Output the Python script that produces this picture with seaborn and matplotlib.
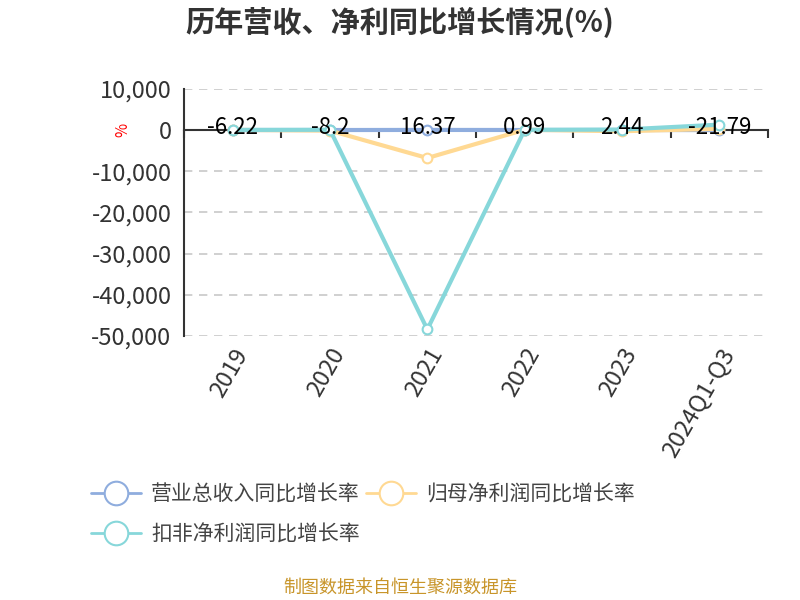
import numpy as np
import pandas as pd
import seaborn as sns
import matplotlib.pyplot as plt
from matplotlib.lines import Line2D

# data
years = ["2019", "2020", "2021", "2022", "2023", "2024Q1-Q3"]
revenue_growth = [-6.22, -8.2, 16.37, 0.99, 2.44, -21.79]
net_profit_growth = [30, -150, -6800, 60, -300, 300]
deducted_profit_growth = [20, 50, -48400, 40, 100, 1300]

series_names = ["营业总收入同比增长率", "归母净利润同比增长率", "扣非净利润同比增长率"]
colors = ["#8fadde", "#ffd993", "#87d7da"]

df = pd.DataFrame({
    "year": years * 3,
    "value": revenue_growth + net_profit_growth + deducted_profit_growth,
    "series": [series_names[0]] * 6 + [series_names[1]] * 6 + [series_names[2]] * 6,
})

sns.set_style("white")
plt.rcParams["font.family"] = ["Noto Sans CJK SC", "DejaVu Sans"]
plt.rcParams["axes.unicode_minus"] = False

fig = plt.figure(figsize=(8, 6), dpi=100)
ax = fig.add_axes([0.23, 0.44, 0.73, 0.412])

sns.lineplot(data=df, x="year", y="value", hue="series", hue_order=series_names,
             palette=colors, marker="o", markersize=7, linewidth=3,
             legend=False, ax=ax, zorder=3)
for line, c in zip(ax.lines, colors):
    line.set_markerfacecolor("white")
    line.set_markeredgecolor(c)
    line.set_markeredgewidth(1.5)

ax.set_xlim(-0.5, len(years) - 0.5)
ax.set_ylim(-50000, 10000)
yticks = np.arange(-50000, 10001, 10000)
ax.set_yticks(yticks)
ax.set_yticklabels([f"{v:,}" for v in yticks], fontsize=17, color="#333333")
for v in yticks:
    if v != 0:
        ax.axhline(v, color="#c8c8c8", linestyle=(0, (5, 4)), linewidth=1.2, zorder=0)

for side in ["top", "right", "bottom"]:
    ax.spines[side].set_visible(False)
ax.spines["left"].set_color("#333333")
ax.spines["left"].set_linewidth(1.5)
ax.tick_params(axis="y", direction="out", length=6, width=1.5, color="#333333", pad=3)

# category labels at the bottom, no tick marks
ax.set_xticks(range(len(years)))
ax.set_xticklabels(years, rotation=60, ha="right", rotation_mode="anchor",
                   fontsize=17, color="#333333")
ax.tick_params(axis="x", length=0, pad=6)
ax.set_xlabel("")
ax.set_ylabel("%", color="red", fontsize=11)
ax.yaxis.set_label_coords(-0.09, 0.835)

# x axis line at y=0 with boundary ticks
sec = ax.secondary_xaxis(0, transform=ax.transData)
sec.set_xticks(np.arange(-0.5, len(years), 1.0))
sec.set_xticklabels([])
sec.tick_params(direction="out", length=6, width=1.5, color="#333333")
sec.spines["bottom"].set_color("#333333")
sec.spines["bottom"].set_linewidth(1.5)

# revenue growth value labels
for i, v in enumerate(revenue_growth):
    ax.annotate(f"{v:g}", (i, 0), xytext=(0, 2), textcoords="offset points",
                ha="center", va="center", fontsize=16, color="black", zorder=5)

fig.text(0.5, 0.962, "历年营收、净利同比增长情况(%)", ha="center", va="center",
         fontsize=21, fontweight="bold", color="#333333")

handles = [Line2D([0], [0], color=c, linewidth=2, marker="o", markersize=17,
                  markerfacecolor="white", markeredgecolor=c, markeredgewidth=1.5)
           for c in colors]
# first row two items, second row one
leg = fig.legend([handles[0], handles[2], handles[1]],
                 [series_names[0], series_names[2], series_names[1]],
                 loc="upper left", bbox_to_anchor=(0.09, 0.225), bbox_transform=fig.transFigure,
                 ncol=2, frameon=False, fontsize=15, handlelength=2.4,
                 columnspacing=0.3, labelspacing=0.85, handletextpad=0.5)
for t in leg.get_texts():
    t.set_color("#444444")

fig.text(0.5, 0.02, "制图数据来自恒生聚源数据库", ha="center", va="center",
         fontsize=13, color="#c8952a")

fig.savefig("out.png", dpi=100)
